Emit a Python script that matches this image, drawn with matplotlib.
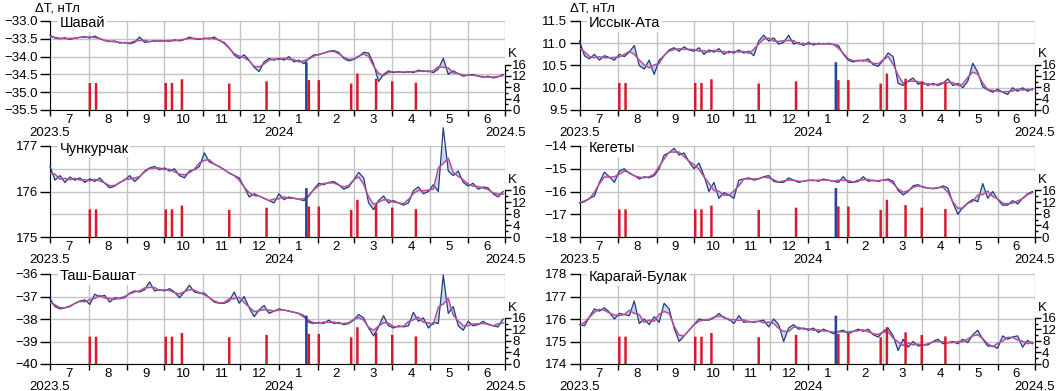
import numpy as np
import pandas as pd
import matplotlib
matplotlib.use('Agg')
import matplotlib.pyplot as plt

plt.rcParams['font.family'] = ['Liberation Sans', 'DejaVu Sans']
plt.rcParams['font.size'] = 9.5

# --- data -------------------------------------------------------------
start = pd.Timestamp('2023-07-01')
dates = pd.date_range(start, periods=92, freq='4D')
month_starts = pd.date_range('2023-07-01', '2024-07-01', freq='MS')
year_dates = ['2023-07-01', '2024-01-01', '2024-07-01']
year_labels = ['2023.5', '2024', '2024.5']

k_dates = ['2023-08-02', '2023-08-07', '2023-10-02', '2023-10-07', '2023-10-15',
           '2023-11-22', '2023-12-22', '2024-01-25', '2024-02-02', '2024-02-28',
           '2024-03-04', '2024-03-19', '2024-04-01', '2024-04-20']
k_values = [9.5, 9.5, 9.5, 9.5, 10.8, 9.3, 10.1, 10.5, 10.5, 9.3, 12.8, 11.0, 10.1, 9.6]
eq_date = '2024-01-23'
eq_value = 16.8

stations = ['Шавай', 'Иссык-Ата', 'Чункурчак', 'Кегеты', 'Таш-Башат', 'Карагай-Булак']

shavai = [-33.40, -33.48, -33.50, -33.47, -33.52, -33.48, -33.46, -33.44, -33.48, -33.42,
          -33.50, -33.55, -33.58, -33.56, -33.62, -33.60, -33.64, -33.60, -33.45, -33.60,
          -33.58, -33.55, -33.57, -33.55, -33.57, -33.53, -33.56, -33.52, -33.45, -33.50,
          -33.52, -33.48, -33.50, -33.45, -33.55, -33.60, -33.75, -33.95, -34.05, -33.95,
          -34.10, -34.30, -34.42, -34.15, -34.05, -34.10, -34.05, -34.10, -34.00, -34.15,
          -34.10, -34.20, -34.05, -33.95, -33.95, -33.90, -33.85, -33.83, -33.88, -34.05,
          -34.12, -34.08, -34.00, -33.88, -33.90, -34.20, -34.70, -34.50, -34.40, -34.45,
          -34.42, -34.45, -34.42, -34.45, -34.38, -34.42, -34.40, -34.45, -34.35, -34.05,
          -34.50, -34.40, -34.48, -34.55, -34.52, -34.50, -34.55, -34.58, -34.55, -34.60,
          -34.57, -34.50]

issyk_ata = [11.05, 10.72, 10.65, 10.75, 10.62, 10.72, 10.68, 10.62, 10.75, 10.70,
             10.80, 10.95, 10.50, 10.42, 10.62, 10.30, 10.62, 10.72, 10.85, 10.90,
             10.82, 10.92, 10.85, 10.82, 10.90, 10.75, 10.85, 10.80, 10.88, 10.75,
             10.82, 10.78, 10.85, 10.78, 10.82, 10.72, 11.05, 11.18, 11.05, 11.12,
             10.98, 11.02, 11.18, 10.98, 11.02, 10.95, 11.02, 10.96, 11.00, 10.98,
             11.00, 10.97, 10.95, 10.75, 10.62, 10.58, 10.62, 10.60, 10.65, 10.52,
             10.48, 10.62, 10.78, 10.70, 10.10, 10.05, 10.15, 10.22, 10.08, 10.12,
             10.05, 10.10, 10.05, 10.10, 10.20, 10.05, 10.10, 10.00, 10.15, 10.55,
             10.35, 10.02, 9.95, 9.90, 9.97, 9.90, 9.85, 10.00, 9.92, 10.00,
             9.92, 9.98]

chunkurchak = [176.55, 176.25, 176.35, 176.20, 176.32, 176.25, 176.30, 176.20, 176.28, 176.22,
               176.30, 176.18, 176.08, 176.12, 176.20, 176.25, 176.35, 176.22, 176.32, 176.45,
               176.52, 176.55, 176.48, 176.52, 176.45, 176.50, 176.35, 176.30, 176.45, 176.48,
               176.55, 176.85, 176.65, 176.60, 176.55, 176.48, 176.40, 176.35, 176.30, 176.10,
               175.88, 175.95, 175.90, 175.85, 175.80, 175.75, 175.95, 175.82, 175.88, 175.85,
               175.83, 175.80, 175.90, 176.05, 176.18, 176.15, 176.20, 176.22, 176.15, 176.05,
               176.10, 176.25, 176.42, 176.30, 175.75, 175.60, 175.80, 175.90, 175.75, 175.80,
               175.75, 175.70, 175.75, 176.02, 176.10, 175.95, 176.00, 176.15, 176.00, 177.40,
               176.45, 176.35, 176.45, 176.20, 176.12, 176.18, 176.05, 176.10, 176.08, 175.95,
               175.88, 176.00]

kegety = [-16.50, -16.45, -16.30, -16.20, -15.60, -15.15, -15.35, -15.60, -15.10, -15.00,
          -15.20, -15.30, -15.45, -15.35, -15.40, -15.30, -15.00, -14.40, -14.30, -14.10,
          -14.40, -14.30, -14.70, -15.00, -14.75, -15.30, -16.00, -15.60, -16.30, -16.05,
          -16.15, -16.30, -15.50, -15.45, -15.40, -15.50, -15.45, -15.35, -15.30, -15.55,
          -15.60, -15.60, -15.40, -15.50, -15.60, -15.55, -15.50, -15.50, -15.55, -15.45,
          -15.50, -15.55, -15.60, -15.35, -15.60, -15.60, -15.55, -15.35, -15.55, -15.50,
          -15.55, -15.50, -15.45, -15.55, -15.95, -16.15, -16.00, -15.75, -15.70, -15.82,
          -15.85, -15.88, -15.85, -15.75, -15.85, -16.50, -17.00, -16.70, -16.50, -16.35,
          -16.45, -15.65, -16.30, -16.00, -16.35, -16.60, -16.60, -16.40, -16.55, -16.30,
          -16.10, -16.00]

tash_bashat = [-37.10, -37.45, -37.55, -37.50, -37.45, -37.30, -37.20, -37.15, -37.35, -36.90,
               -37.00, -36.95, -37.25, -37.05, -37.10, -37.05, -36.85, -36.75, -36.80, -36.70,
               -36.35, -36.75, -36.70, -36.75, -36.65, -36.80, -37.05, -36.80, -36.50, -36.80,
               -36.85, -36.85, -37.05, -37.25, -37.30, -37.30, -37.20, -36.80, -37.30, -37.00,
               -37.50, -37.90, -37.60, -37.40, -37.75, -37.65, -37.55, -37.60, -37.65, -37.70,
               -37.75, -37.85, -38.15, -38.20, -38.15, -38.20, -38.05, -38.20, -38.15, -38.25,
               -38.20, -38.05, -37.80, -37.95, -38.40, -38.75, -38.35, -37.85, -38.30, -38.40,
               -38.30, -38.35, -38.30, -37.70, -38.10, -37.95, -38.40, -38.15, -38.20, -36.05,
               -37.75, -37.45, -38.30, -38.50, -38.10, -38.30, -38.25, -38.10, -38.25, -38.30,
               -38.35, -38.00]

karagai_bulak = [175.75, 175.70, 176.10, 176.45, 176.35, 176.50, 176.30, 176.00, 176.25, 176.20,
                 176.15, 176.80, 175.80, 176.00, 175.75, 176.10, 175.85, 176.70, 176.45, 175.60,
                 175.00, 175.25, 175.50, 175.75, 176.00, 175.95, 175.95, 176.05, 176.25, 176.05,
                 176.00, 175.80, 176.15, 175.85, 175.90, 175.85, 175.90, 175.95, 175.65, 176.00,
                 175.75, 175.00, 175.60, 175.75, 175.55, 175.60, 175.50, 175.60, 175.40, 175.55,
                 175.45, 175.35, 175.45, 175.50, 175.35, 175.45, 175.55, 175.45, 175.55, 175.30,
                 175.20, 175.45, 175.60, 175.25, 174.60, 175.10, 174.75, 175.00, 174.80, 174.85,
                 174.85, 175.00, 175.10, 174.90, 174.95, 175.00, 174.90, 175.10, 174.95, 175.30,
                 175.50, 175.10, 174.80, 174.80, 174.70, 175.25, 175.10, 175.20, 175.25, 174.75,
                 175.05, 174.90]

series = [shavai, issyk_ata, chunkurchak, kegety, tash_bashat, karagai_bulak]
ylims = [(-35.5, -33.0), (9.5, 11.5), (175, 177), (-18, -14), (-40, -36), (174, 178)]
ysteps = [0.5, 0.5, 1, 1, 1, 1]
ydecimals = [1, 1, 0, 0, 0, 0]


def days(d):
    return np.asarray((pd.to_datetime(d) - start).days, dtype=float)


# --- layout (pixel boxes of the reference) -----------------------------
W, H = 1062, 391
cols = [(50, 455.5), (579.5, 455.5)]
rows = [(21, 110), (146, 237), (274, 364)]

fig = plt.figure(figsize=(W / 100, H / 100), dpi=100)

x = days(dates)
mstart = days(month_starts)
mmid = (mstart[:-1] + mstart[1:]) / 2
mlabels = [str(d.month) for d in month_starts[:-1]]

for i, (name, vals) in enumerate(zip(stations, series)):
    r, c = divmod(i, 2)
    x0, w = cols[c]
    top, bot = rows[r]
    ax = fig.add_axes([x0 / W, 1 - bot / H, w / W, (bot - top) / H])

    y = np.array(vals)
    sm = pd.Series(y).rolling(3, center=True, min_periods=1).mean().values
    ax.fill_between(x, y, sm, color='#a3b6e2', lw=0, alpha=0.55, zorder=2)
    ax.plot(x, y, color='#1f3b80', lw=0.9, zorder=3, clip_on=False)
    ax.plot(x, sm, color='#b4509b', lw=1.1, zorder=4)

    lo, hi = ylims[i]
    ax.set_xlim(0, 366)
    ax.set_ylim(lo, hi)

    ax.set_xticks(mstart)
    ax.set_xticklabels([])
    ax.set_xticks(mmid, minor=True)
    ax.set_xticklabels(mlabels, minor=True)
    ax.tick_params(axis='x', which='major', direction='out', length=4.5, width=1)
    ax.tick_params(axis='x', which='minor', length=0, pad=3)

    yt = np.arange(lo, hi + 1e-9, ysteps[i])
    ax.set_yticks(yt)
    ax.set_yticklabels([f'{v:.{ydecimals[i]}f}'.replace('-', '\u2212') for v in yt])
    if i == 2:
        ax.set_yticks(np.arange(lo + 0.5, hi, 1.0), minor=True)
    ax.tick_params(axis='y', which='major', direction='out', length=7.2, width=1, pad=1.5)
    ax.tick_params(axis='y', which='minor', length=0)

    ax.xaxis.grid(True, which='major', color='#c4c4c4', lw=1)
    ax.yaxis.grid(True, which='both', color='#c4c4c4', lw=1)
    ax.set_axisbelow(True)
    for s in ['top', 'right']:
        ax.spines[s].set_visible(False)

    for d, lab in zip(year_dates, year_labels):
        ax.annotate(lab, xy=(days([d])[0], 0), xycoords=('data', 'axes fraction'),
                    xytext=(0, -12.3), textcoords='offset points', ha='center', va='top')

    ax.text(0.021, 1 - 2.5 / (bot - top), name, transform=ax.transAxes, ha='left',
            va='center', fontsize=10.5, zorder=6,
            bbox=dict(fc='white', ec='none', pad=1.2))
    if r == 0:
        ax.annotate('\u0394T, нТл', xy=(0, 1), xycoords='axes fraction',
                    xytext=(-11 if c == 0 else -6.5, 9), textcoords='offset points',
                    ha='left', va='center')

    # K index on the right axis
    ax2 = ax.twinx()
    ax2.set_ylim(0, 31.3)
    ax2.bar(days([eq_date]), [eq_value], width=2.1, color='#24479a', lw=0, zorder=3,
            snap=False)
    ax2.bar(days(k_dates), k_values, width=2.0, color='#d7192a', lw=0, zorder=4,
            snap=False)
    ax2.set_yticks([0, 4, 8, 12, 16])
    ax2.set_yticks([2, 6, 10, 14], minor=True)
    ax2.tick_params(axis='y', which='major', length=4, width=1, pad=1)
    ax2.tick_params(axis='y', which='minor', length=2.5, width=1)
    ax2.spines['right'].set_bounds(0, 16)
    for s in ['top', 'left', 'bottom']:
        ax2.spines[s].set_visible(False)
    ax2.annotate('K', xy=(1, 16), xycoords=('axes fraction', 'data'),
                 xytext=(2, 3), textcoords='offset points', ha='left', va='bottom')

fig.savefig('out.png', dpi=100)
